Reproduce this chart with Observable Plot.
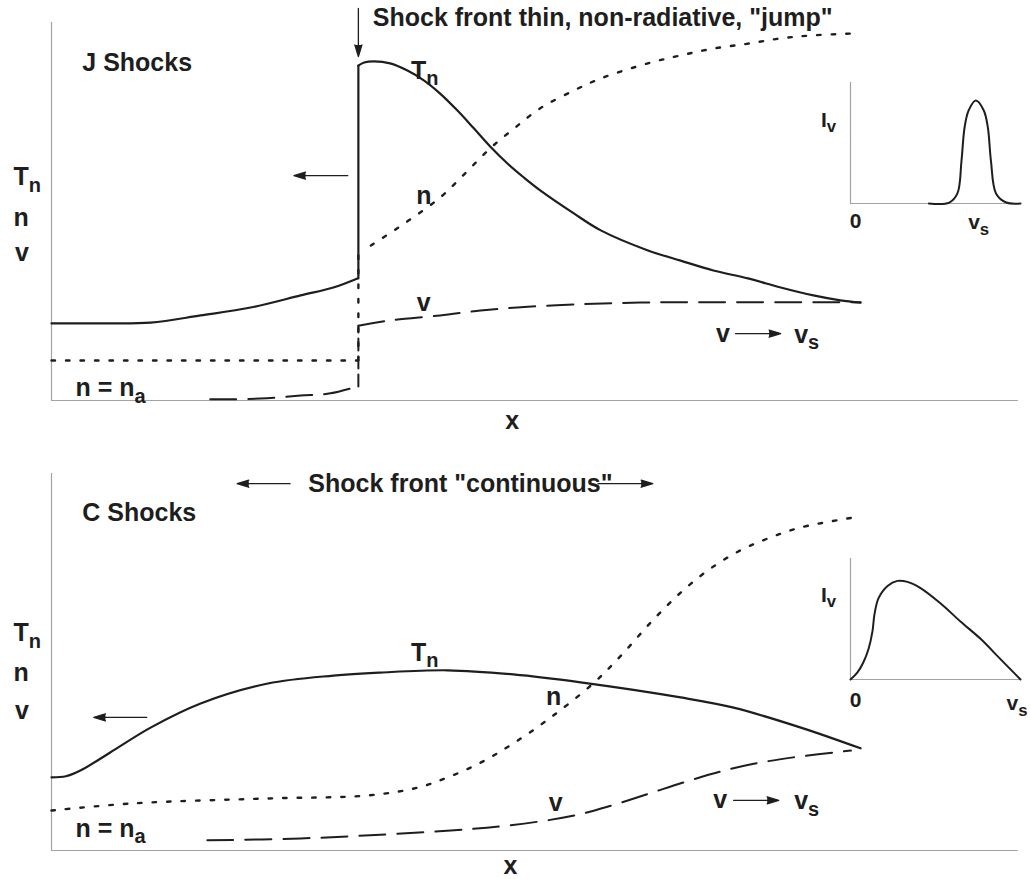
<!DOCTYPE html>
<html><head><meta charset="utf-8">
<script src="https://cdn.jsdelivr.net/npm/d3@7"></script>
<script src="https://cdn.jsdelivr.net/npm/@observablehq/plot@0.6"></script>
<style>
body{margin:0;background:#fff;}
#wrap{position:relative;width:1031px;height:879px;overflow:hidden;background:#fff;}
#wrap svg{position:absolute;overflow:visible;}
</style></head><body><div id="wrap"></div>
<script>
const INK = "#1e1e1e", AXIS = "#a3a3a3";
const FONT = "'Liberation Sans', Arial, Helvetica, sans-serif";

// ---- J shock (top panel): x = distance (0–10), y = schematic value (0–10)
const jTnPre  = [[0,2.04],[0.51,2.04],[1.03,2.06],[1.55,2.25],[2.07,2.46],[2.59,2.78],[2.93,2.99],[3.18,3.23]];
const jTnJump = [[3.19,3.23],[3.19,8.86]];
const jTnPost = [[3.19,8.86],[3.25,8.94],[3.35,8.97],[3.52,8.92],[3.70,8.73],[3.87,8.47],[4.04,8.12],[4.22,7.67],[4.39,7.20],[4.56,6.72],[4.74,6.27],[4.91,5.90],[5.08,5.56],[5.43,4.95],[5.71,4.50],[6.20,3.97],[6.54,3.70],[6.88,3.44],[7.24,3.23],[7.58,2.99],[7.92,2.78],[8.20,2.65],[8.41,2.59]];
const jNPre   = [[0,1.06],[3.18,1.06]];
const jNJump  = [[3.19,1.06],[3.19,4.0]];
const jNPost  = [[3.32,4.10],[3.70,4.74],[4.04,5.37],[4.30,6.01],[4.56,6.67],[4.82,7.22],[5.08,7.73],[5.43,8.20],[5.71,8.52],[6.20,8.92],[6.54,9.13],[6.88,9.31],[7.24,9.44],[7.58,9.58],[7.92,9.66],[8.36,9.71]];
const jVPre   = [[1.65,0.03],[2.17,0.05],[2.59,0.13],[2.90,0.19],[3.18,0.37]];
const jVJump  = [[3.19,0.37],[3.19,1.98]];
const jVPost  = [[3.19,1.98],[3.52,2.12],[4.04,2.25],[4.46,2.38],[4.84,2.46],[5.50,2.55],[6.12,2.59],[6.75,2.60],[8.41,2.60]];

// ---- C shock (bottom panel)
const cTn = [[0,1.94],[0.15,1.97],[0.30,2.12],[0.61,2.60],[1.03,3.26],[1.55,3.90],[2.25,4.43],[2.93,4.64],[3.42,4.72],[4.12,4.78],[4.80,4.67],[5.50,4.46],[6.54,4.06],[7.09,3.79],[7.79,3.26],[8.41,2.71]];
const cN  = [[0,1.06],[0.85,1.25],[2.25,1.38],[3.29,1.46],[3.81,1.67],[4.12,1.94],[4.46,2.33],[4.80,2.84],[5.19,3.53],[5.63,4.43],[5.92,5.17],[6.23,6.05],[6.54,6.84],[6.85,7.48],[7.16,7.96],[7.47,8.30],[7.79,8.57],[8.33,8.83]];
const cV  = [[1.62,0.27],[2.59,0.32],[3.42,0.42],[4.15,0.53],[4.74,0.66],[5.42,0.92],[5.83,1.20],[6.20,1.50],[6.59,1.82],[6.95,2.09],[7.30,2.30],[7.71,2.47],[8.31,2.65]];

// ---- line profiles (insets): x = v / v_s, y = I_v (normalised)
const jProfile = [[0.461,0],[0.581,0.008],[0.629,0.083],[0.653,0.355],[0.671,0.628],[0.695,0.769],[0.737,0.851],[0.784,0.769],[0.808,0.628],[0.826,0.355],[0.856,0.083],[0.916,0.008],[1,0]];
const cProfile = [[0,0],[0.041,0.059],[0.076,0.143],[0.106,0.252],[0.129,0.395],[0.141,0.538],[0.165,0.672],[0.218,0.773],[0.276,0.815],[0.335,0.807],[0.412,0.756],[0.529,0.630],[0.647,0.479],[0.765,0.336],[0.882,0.168],[0.959,0.059],[1,0]];

// ---- annotations
const jLabelsStart = [
  {x:0.32, y:8.94, text:"J Shocks"},
  {x:3.34, y:10.13, text:'Shock front thin, non-radiative, "jump"'},
  {x:0.25, y:0.32, text:"n = n_a"},
  {x:-0.395, y:5.90, text:"T_n"},
  {x:-0.395, y:4.84, text:"n"},
  {x:-0.38, y:3.89, text:"v"}
];
const jLabelsMid = [
  {x:3.88, y:8.73, text:"T_n"},
  {x:3.87, y:5.40, text:"n"},
  {x:3.87, y:2.59, text:"v"},
  {x:6.98, y:1.77, text:"v"},
  {x:7.85, y:1.74, text:"v_s"},
  {x:4.79, y:-0.53, text:"x"}
];
const jArrows = [
  {x1:3.19, y1:10.37, x2:3.19, y2:9.10},
  {x1:3.08, y1:5.95, x2:2.52, y2:5.95},
  {x1:7.11, y1:1.77, x2:7.58, y2:1.77}
];
const cLabelsStart = [
  {x:0.32, y:8.94, text:"C Shocks"},
  {x:2.67, y:9.71, text:'Shock front "continuous"'},
  {x:0.25, y:0.58, text:"n = n_a"},
  {x:-0.395, y:5.76, text:"T_n"},
  {x:-0.395, y:4.70, text:"n"},
  {x:-0.38, y:3.71, text:"v"}
];
const cLabelsMid = [
  {x:3.88, y:5.25, text:"T_n"},
  {x:5.22, y:4.06, text:"n"},
  {x:5.24, y:1.25, text:"v"},
  {x:6.95, y:1.33, text:"v"},
  {x:7.85, y:1.30, text:"v_s"},
  {x:4.77, y:-0.40, text:"x"}
];
const cArrows = [
  {x1:2.48, y1:9.73, x2:1.93, y2:9.73},
  {x1:5.68, y1:9.73, x2:6.25, y2:9.73},
  {x1:0.99, y1:3.53, x2:0.44, y2:3.53},
  {x1:7.09, y1:1.33, x2:7.56, y2:1.33}
];

const solid  = {stroke:INK, strokeWidth:2.2, curve:"catmull-rom"};
const dotted = {stroke:INK, strokeWidth:2.4, strokeDasharray:"3.5,11", curve:"catmull-rom"};
const dashed = {stroke:INK, strokeWidth:2, strokeDasharray:"26,12", curve:"catmull-rom"};
const txt = {x:"x", y:"y", text:"text", fontSize:25, fontWeight:"bold", fill:INK, fontFamily:FONT};
const arrowOpts = {x1:"x1", y1:"y1", x2:"x2", y2:"y2", stroke:INK, fill:INK, strokeWidth:1.3, headLength:14, headAngle:34};

function finish(svg){
  // subscripts: "T_n" -> T with a lowered, smaller n
  svg.querySelectorAll("text").forEach(t => {
    const s = t.textContent; const i = s.indexOf("_");
    if (i < 0) return;
    t.textContent = "";
    const ns = "http://www.w3.org/2000/svg";
    const a = document.createElementNS(ns, "tspan"); a.textContent = s.slice(0, i);
    const b = document.createElementNS(ns, "tspan"); b.textContent = s.slice(i + 1);
    b.setAttribute("font-size", "0.8em"); b.setAttribute("dy", "0.32em");
    t.append(a, b);
  });
  // filled arrowheads
  svg.querySelectorAll('g[aria-label="arrow"]').forEach(g => {
    g.setAttribute("fill", INK);
    g.querySelectorAll("path").forEach(p => { p.setAttribute("fill", INK); p.setAttribute("stroke-linejoin", "miter"); });
  });
  return svg;
}

function panel({height, marginTop, marginBottom, lines, start, mid, arrows}){
  return finish(Plot.plot({
    width:1031, height, marginLeft:51, marginRight:18, marginTop, marginBottom,
    x:{domain:[0,10], axis:null}, y:{domain:[0,10], axis:null},
    style:{background:"transparent", overflow:"visible"},
    marks:[
      Plot.ruleX([0], {y1:0, y2:10, stroke:AXIS, strokeWidth:1.2}),
      Plot.ruleY([0], {x1:0, x2:10.05, stroke:AXIS, strokeWidth:1.2}),
      ...lines,
      Plot.arrow(arrows, arrowOpts),
      Plot.text(start, {...txt, textAnchor:"start"}),
      Plot.text(mid, {...txt, textAnchor:"middle"})
    ]
  }));
}

function inset({profile, iy, vsx, zeroDy, vsDy}){
  return finish(Plot.plot({
    width:223, height:160, marginLeft:30, marginRight:23, marginTop:5, marginBottom:34,
    x:{domain:[0,1], axis:null}, y:{domain:[0,1], axis:null},
    style:{background:"transparent", overflow:"visible"},
    marks:[
      Plot.ruleX([0], {y1:0, y2:1, stroke:AXIS, strokeWidth:1.2}),
      Plot.ruleY([0], {x1:0, x2:1, stroke:AXIS, strokeWidth:1.2}),
      Plot.line(profile, {stroke:INK, strokeWidth:2, curve:"catmull-rom"}),
      Plot.text([{x:0, y:iy, text:"I_v"}], {...txt, fontSize:21, dx:-22}),
      Plot.text([{x:0, y:0, text:"0"}], {...txt, fontSize:21, dx:5, dy:zeroDy}),
      Plot.text([{x:vsx, y:0, text:"v_s"}], {...txt, fontSize:21, dy:vsDy})
    ]
  }));
}

const wrap = document.getElementById("wrap");
function place(svg, left, top){ svg.style.left = left + "px"; svg.style.top = top + "px"; wrap.appendChild(svg); }

place(panel({height:440, marginTop:22, marginBottom:40,
  lines:[
    Plot.line(jTnPre, solid), Plot.line(jTnJump, {...solid, curve:"linear"}), Plot.line(jTnPost, solid),
    Plot.line(jNPre, {...dotted, curve:"linear"}), Plot.line(jNJump, {...dotted, curve:"linear"}), Plot.line(jNPost, dotted),
    Plot.line(jVPre, dashed), Plot.line(jVJump, {...dashed, strokeDasharray:"12,6", curve:"linear"}), Plot.line(jVPost, dashed)
  ], start:jLabelsStart, mid:jLabelsMid, arrows:jArrows}), 0, 0);

place(panel({height:439, marginTop:33, marginBottom:29,
  lines:[ Plot.line(cTn, solid), Plot.line(cN, dotted), Plot.line(cV, dashed) ],
  start:cLabelsStart, mid:cLabelsMid, arrows:cArrows}), 0, 440);

place(inset({profile:jProfile, iy:0.69, vsx:0.754, zeroDy:18, vsDy:19}), 820, 77);
place(inset({profile:cProfile, iy:0.70, vsx:0.98, zeroDy:21, vsDy:24}), 820, 553);
</script></body></html>
